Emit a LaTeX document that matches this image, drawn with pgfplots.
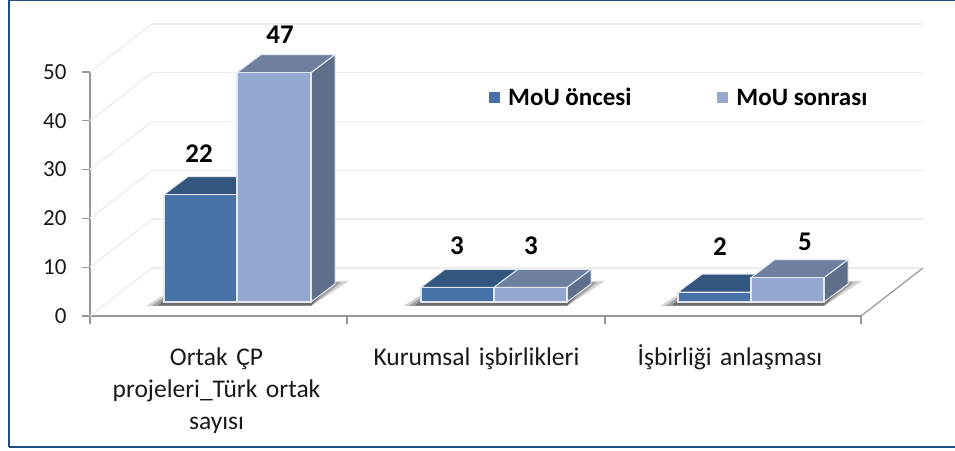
\documentclass[border=0pt]{standalone}
\usepackage{fontspec}
\setmainfont{Carlito}
\usepackage{pgfplots}
\pgfplotsset{compat=1.18}
\definecolor{frameblue}{HTML}{1F4E86}
\definecolor{gridc}{HTML}{EDEDED}
\definecolor{axc}{HTML}{969696}
\definecolor{df}{HTML}{4672A8}
\definecolor{dt}{HTML}{33567F}
\definecolor{ds}{HTML}{2F4F78}
\definecolor{lf}{HTML}{95A8D0}
\definecolor{lt}{HTML}{6F809F}
\definecolor{ls}{HTML}{5F6E8A}
\definecolor{edgec}{HTML}{E4E8F0}
% y offset of the bars' front base above the axis, bar depth
\def\basev{2.87}
\def\ddy{3.7}
\def\ddx{24}
\newcommand{\tdbar}[6]{%
  \pgfmathsetmacro{\ytop}{\basev+#3}%
  \pgfmathsetmacro{\ytopb}{\basev+#3+\ddy}%
  \pgfmathsetmacro{\ybaseb}{\basev+\ddy}%
  \pgfmathsetmacro{\xa}{#1+\ddx}%
  \pgfmathsetmacro{\xb}{#2+\ddx}%
  \addplot[draw=edgec,line width=1pt,fill=#6] coordinates {(#2,\basev) (\xb,\ybaseb) (\xb,\ytopb) (#2,\ytop)} -- cycle;
  \addplot[draw=edgec,line width=1pt,fill=#5] coordinates {(#1,\ytop) (#2,\ytop) (\xb,\ytopb) (\xa,\ytopb)} -- cycle;
  \addplot[draw=edgec,line width=1.3pt,fill=#4] coordinates {(#1,\basev) (#2,\basev) (#2,\ytop) (#1,\ytop)} -- cycle;
}
\newcommand{\shadow}[2]{%
  \pgfmathsetmacro{\sa}{#1-18}\pgfmathsetmacro{\sb}{#1+22}\pgfmathsetmacro{\sc}{#2+38}%
  \addplot[draw=none,fill=black!18,forget plot] coordinates {(\sa,2.0) (#2,2.0) (\sc,7.2) (\sb,7.2)} -- cycle;
  \pgfmathsetmacro{\sa}{#1-12}\pgfmathsetmacro{\sc}{#2+30}%
  \addplot[draw=none,fill=black!38,forget plot] coordinates {(\sa,2.1) (#2,2.1) (\sc,6.9) (\sb,6.9)} -- cycle;
  \pgfmathsetmacro{\sa}{#1-6}\pgfmathsetmacro{\sc}{#2+22}%
  \addplot[draw=none,fill=black!58,forget plot] coordinates {(\sa,2.2) (#2,2.2) (\sc,6.6) (\sb,6.6)} -- cycle;
}
\begin{document}
\begin{tikzpicture}[x=1pt,y=1pt]
\path[use as bounding box] (-90,-134) rectangle (865,316);
\begin{axis}[
  at={(0,0)},anchor=south west,
  scale only axis,width=771pt,height=244pt,
  xmin=90,xmax=861,ymin=0,ymax=50,
  clip=false,
  axis lines=left,
  axis line style={draw=axc,line width=1.4pt,-},
  tick style={draw=axc,line width=1.1pt},
  tick align=outside,
  major tick length=8pt,
  ytick={0,10,20,30,40,50},
  xtick={90,347,605,861},
  xticklabels={},
  extra x ticks={216.5,476.5,730},
  extra x tick labels={\vphantom{İ}Ortak ÇP\\projeleri\_Türk ortak\\sayısı,\vphantom{İ}Kurumsal işbirlikleri,İşbirliği anlaşması},
  extra x tick style={major tick length=0pt,
    xticklabel style={align=center,text width=240pt,anchor=north,yshift=-25pt,font=\fontsize{25.5}{32}\selectfont,text=black!90}},
  yticklabel style={font=\fontsize{23}{26}\selectfont,text=black!90,xshift=-12pt},
  /pgf/number format/assume math mode=true,
  legend style={at={(axis cs:489,44.7)},anchor=west,draw=none,fill=none,
     legend columns=2,font=\fontsize{25}{28}\selectfont\bfseries,inner xsep=0pt,
     /tikz/every even column/.append style={column sep=84pt}},
  legend cell align=left,
  legend image code/.code={\fill[#1,draw=none] (0pt,-5.5pt) rectangle (11pt,5.5pt);\path[draw=none] (0pt,0pt) -- (17pt,0pt);},
]
% back wall, left wall and floor
\pgfplotsinvokeforeach{0,10,20,30,40,50}{
  \addplot[draw=gridc,line width=1.4pt,forget plot] coordinates {(90,#1) (152,#1+9.84)};
}
\addplot[draw=gridc,line width=1.4pt,forget plot] coordinates {(152,9.84) (923,9.84)};
\addplot[draw=gridc,line width=1.4pt,forget plot] coordinates {(152,19.84) (923,19.84)};
\addplot[draw=gridc,line width=1.4pt,forget plot] coordinates {(152,29.84) (923,29.84)};
\addplot[draw=gridc,line width=1.4pt,forget plot] coordinates {(152,39.84) (923,39.84)};
\addplot[draw=gridc,line width=1.4pt,forget plot] coordinates {(152,49.84) (923,49.84)};
\addplot[draw=gridc,line width=1.4pt,forget plot] coordinates {(152,59.84) (923,59.84)};
\addplot[draw=axc,line width=1.2pt,forget plot] coordinates {(861,0) (923,9.84)};
% shadows
\shadow{164}{311}
\shadow{421}{567}
\shadow{678}{824}
% bars
\begingroup
\pgfplotsset{every axis plot/.append style={forget plot}}
\tdbar{164}{237}{22}{df}{dt}{ds}
\tdbar{237}{311}{47}{lf}{lt}{ls}
\tdbar{421}{494}{3}{df}{dt}{ds}
\tdbar{494}{567}{3}{lf}{lt}{ls}
\tdbar{678}{751}{2}{df}{dt}{ds}
\tdbar{751}{824}{5}{lf}{lt}{ls}
\endgroup
\addlegendimage{fill=df}
\addlegendentry{MoU öncesi}
\addlegendimage{fill=lf}
\addlegendentry{MoU sonrası}
% value labels
\tikzset{vl/.style={font=\fontsize{27}{29}\selectfont\bfseries,text=black}}
\node[vl] at (axis cs:199,33.2) {22};
\node[vl] at (axis cs:280,57.6) {47};
\node[vl] at (axis cs:457,14.3) {3};
\node[vl] at (axis cs:531,14.3) {3};
\node[vl] at (axis cs:720,14.3) {2};
\node[vl] at (axis cs:805,15.1) {5};
\end{axis}
% frame
\draw[frameblue,line width=2.4pt] (-81,-131) -- (-81,316);
\draw[frameblue,line width=2.4pt] (-81,-131) -- (865,-131);
\draw[frameblue,line width=1.5pt] (-81,315.5) -- (865,315.5);
\end{tikzpicture}
\end{document}
